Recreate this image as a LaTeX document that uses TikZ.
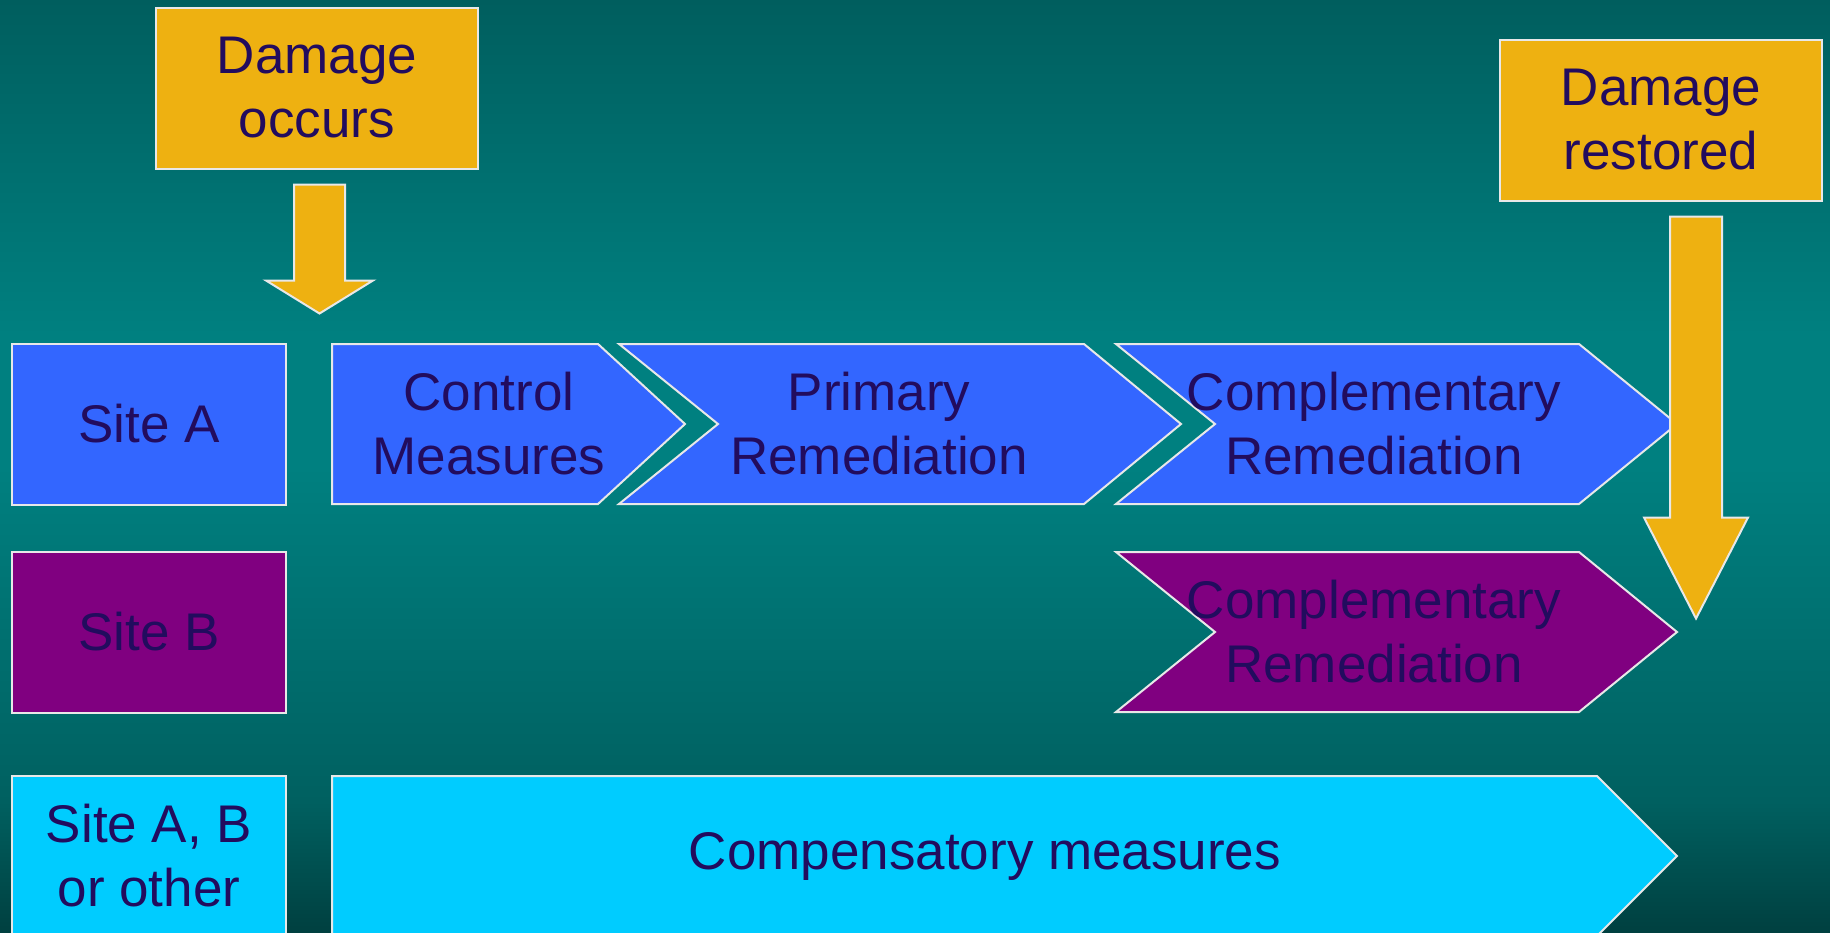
\documentclass[tikz,border=0pt]{standalone}
\usepackage{fontspec}
\setmainfont{Liberation Sans}
\usepackage{tikz}

\definecolor{bgtop}{RGB}{0,94,94}
\definecolor{bgmid}{RGB}{0,128,128}
\definecolor{bglow}{RGB}{0,96,96}
\definecolor{bgbot}{RGB}{0,64,64}
\definecolor{siteblue}{RGB}{51,102,255}
\definecolor{sitepurple}{RGB}{128,0,128}
\definecolor{sitecyan}{RGB}{0,204,255}
\definecolor{damagegold}{RGB}{238,177,17}
\definecolor{labeltext}{RGB}{34,12,94}
\definecolor{edge}{RGB}{232,232,232}

\pgfdeclareverticalshading{bgshade}{100bp}{color(0bp)=(bgbot); color(25bp)=(bgbot); color(32bp)=(bglow); color(50bp)=(bgmid); color(57bp)=(bgmid); color(75bp)=(bgtop); color(100bp)=(bgtop)}

\tikzset{
  label text/.style={text=labeltext, align=center, font=\fontsize{53bp}{64bp}\selectfont},
  box/.style={label text, draw=edge, line width=2bp, minimum height=161bp, inner sep=0pt},
  sitebox/.style={box, minimum width=274bp},
  damagebox/.style={box, fill=damagegold, minimum width=322bp},
  band/.style={draw=edge, line width=2bp},
  blockarrow/.style={draw=edge, line width=2bp, fill=damagegold}
}

\begin{document}
\begin{tikzpicture}[x=1bp, y=-1bp]
  \useasboundingbox (0,0) rectangle (1830,932);
  \fill [shading=bgshade] (0,0) rectangle (1830,932);

  \node (occurs) [damagebox] at (317,88) {Damage\\occurs};
  \node (restored) [damagebox] at (1661,120) {Damage\\restored};

  \node (siteA) [sitebox, fill=siteblue] at (149,424) {Site A};
  \node (siteB) [sitebox, fill=sitepurple] at (149,632) {Site B};
  \node (siteO) [sitebox, fill=sitecyan] at (149,856) {Site A, B\\or other};

  \draw [band, fill=siteblue] (332,344) -- (598,344) -- (685,424) -- (598,504) -- (332,504) -- cycle;
  \draw [band, fill=siteblue] (619,344) -- (1084,344) -- (1181,424) -- (1084,504) -- (619,504) -- (718,424) -- cycle;
  \draw [band, fill=siteblue] (1116,344) -- (1579,344) -- (1677,424) -- (1579,504) -- (1116,504) -- (1215,424) -- cycle;
  \draw [band, fill=sitepurple] (1116,552) -- (1579,552) -- (1677,632) -- (1579,712) -- (1116,712) -- (1215,632) -- cycle;
  \draw [band, fill=sitecyan] (332,776) -- (1597,776) -- (1677,856) -- (1597,936) -- (332,936) -- cycle;

  \node (control) [label text] at (489,424) {Control\\Measures};
  \node (primary) [label text] at (879,424) {Primary\\Remediation};
  \node (complA) [label text] at (1374,424) {Complementary\\Remediation};
  \node (complB) [label text] at (1374,632) {Complementary\\Remediation};
  \node (compens) [label text] at (985,856) {Compensatory measures};

  \draw [blockarrow] ([xshift=-23bp, yshift=-15bp]occurs.south) -- ++(51,0) -- ++(0,96) -- ++(28,0) -- ++(-53.5,33) -- ++(-53.5,-33) -- ++(28,0) -- cycle;
  \draw [blockarrow] ([xshift=9bp, yshift=-15bp]restored.south) -- ++(52,0) -- ++(0,301) -- ++(26,0) -- ++(-52,101) -- ++(-52,-101) -- ++(26,0) -- cycle;
\end{tikzpicture}
\end{document}
